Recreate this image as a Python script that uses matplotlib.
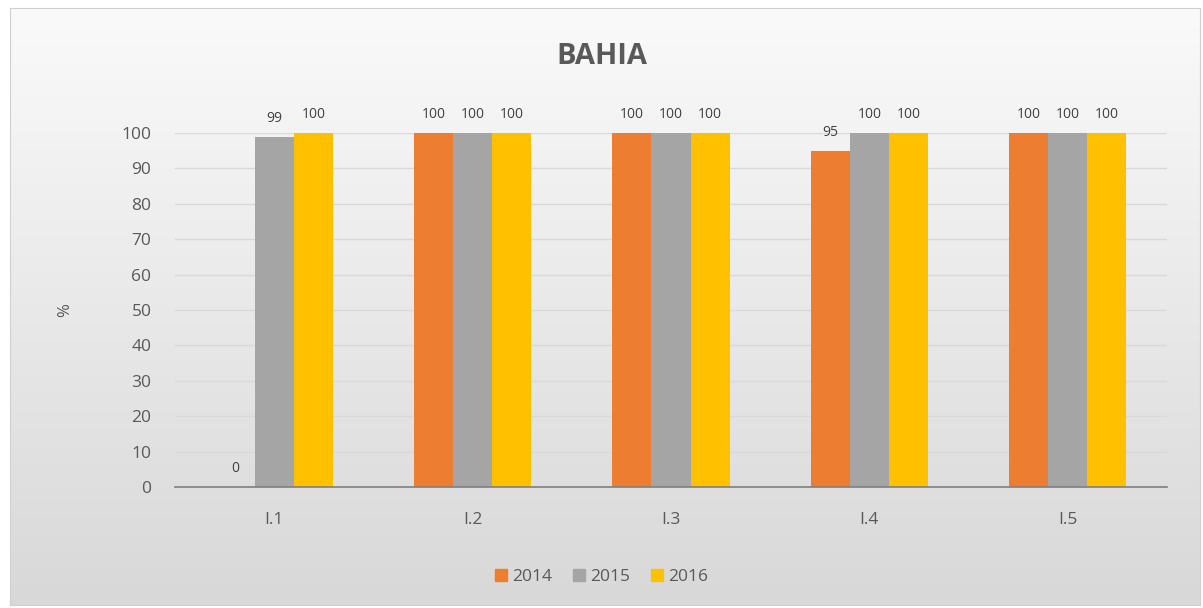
import numpy as np
import matplotlib.pyplot as plt
from matplotlib.colors import LinearSegmentedColormap
from matplotlib.patches import Patch

categorias = ["I.1", "I.2", "I.3", "I.4", "I.5"]
anos = ["2014", "2015", "2016"]
v2014 = [0, 100, 100, 95, 100]
v2015 = [99, 100, 100, 100, 100]
v2016 = [100, 100, 100, 100, 100]
cores = ["#ED7D31", "#A5A5A5", "#FFC000"]

plt.rcParams['font.family'] = ['Open Sans', 'DejaVu Sans']

fig = plt.figure(figsize=(12.03, 6.08), dpi=100)

# fundo com degradê
bg = fig.add_axes([10/1203, 3/608, 1190/1203, 597/608])
grad = np.linspace(0, 1, 256).reshape(-1, 1)
bg.imshow(grad, aspect='auto', cmap=LinearSegmentedColormap.from_list('g', ['#fafafa', '#d8d8d8']),
          extent=[0, 1, 0, 1], origin='upper')
bg.set_xlim(0, 1)
bg.set_ylim(0, 1)
bg.set_xticks([])
bg.set_yticks([])
for s in bg.spines.values():
    s.set_color('#d0d0d0')
    s.set_linewidth(0.8)

ax = fig.add_axes([175/1203, 1 - 487/608, 992/1203, (487 - 133)/608])
ax.patch.set_alpha(0)

x = np.arange(len(categorias))
w = 0.197
series = [v2014, v2015, v2016]
for i, (vals, cor, ano) in enumerate(zip(series, cores, anos)):
    pos = x + (i - 1) * w
    ax.bar(pos, vals, w, color=cor, label=ano, zorder=3)
    for xp, v in zip(pos, vals):
        ax.text(xp, v + 3, str(v), ha='center', va='bottom', fontsize=10,
                color='#404040', clip_on=False)

ax.set_xlim(-0.5, len(categorias) - 0.5)
ax.set_ylim(0, 100)
ax.set_yticks(range(0, 101, 10))
ax.set_xticks(x)
ax.set_xticklabels(categorias)
ax.tick_params(axis='both', length=0, labelsize=12.5, colors='#595959')
ax.tick_params(axis='y', pad=17)
ax.tick_params(axis='x', pad=18)
ax.yaxis.grid(True, color='#d9d9d9', linewidth=1, zorder=0)
for s in ['top', 'right', 'left']:
    ax.spines[s].set_visible(False)
ax.spines['bottom'].set_color('#7f7f7f')
ax.spines['bottom'].set_linewidth(1.2)
ax.spines['bottom'].set_zorder(4)

ax.set_ylabel('%', fontsize=12, color='#595959', labelpad=35)

fig.text(0.5, 1 - 56/608, 'BAHIA', ha='center', va='center', fontsize=21,
         fontweight='bold', color='#595959')

handles = [Patch(color=c, label=a) for c, a in zip(cores, anos)]
fig.legend(handles=handles, loc='center', bbox_to_anchor=(0.5, 1 - 577/608),
           ncol=3, frameon=False, fontsize=12.5, handlelength=0.7, handleheight=0.7,
           handletextpad=0.3, columnspacing=1.2, labelcolor='#595959')

fig.savefig('out.png', dpi=100)
